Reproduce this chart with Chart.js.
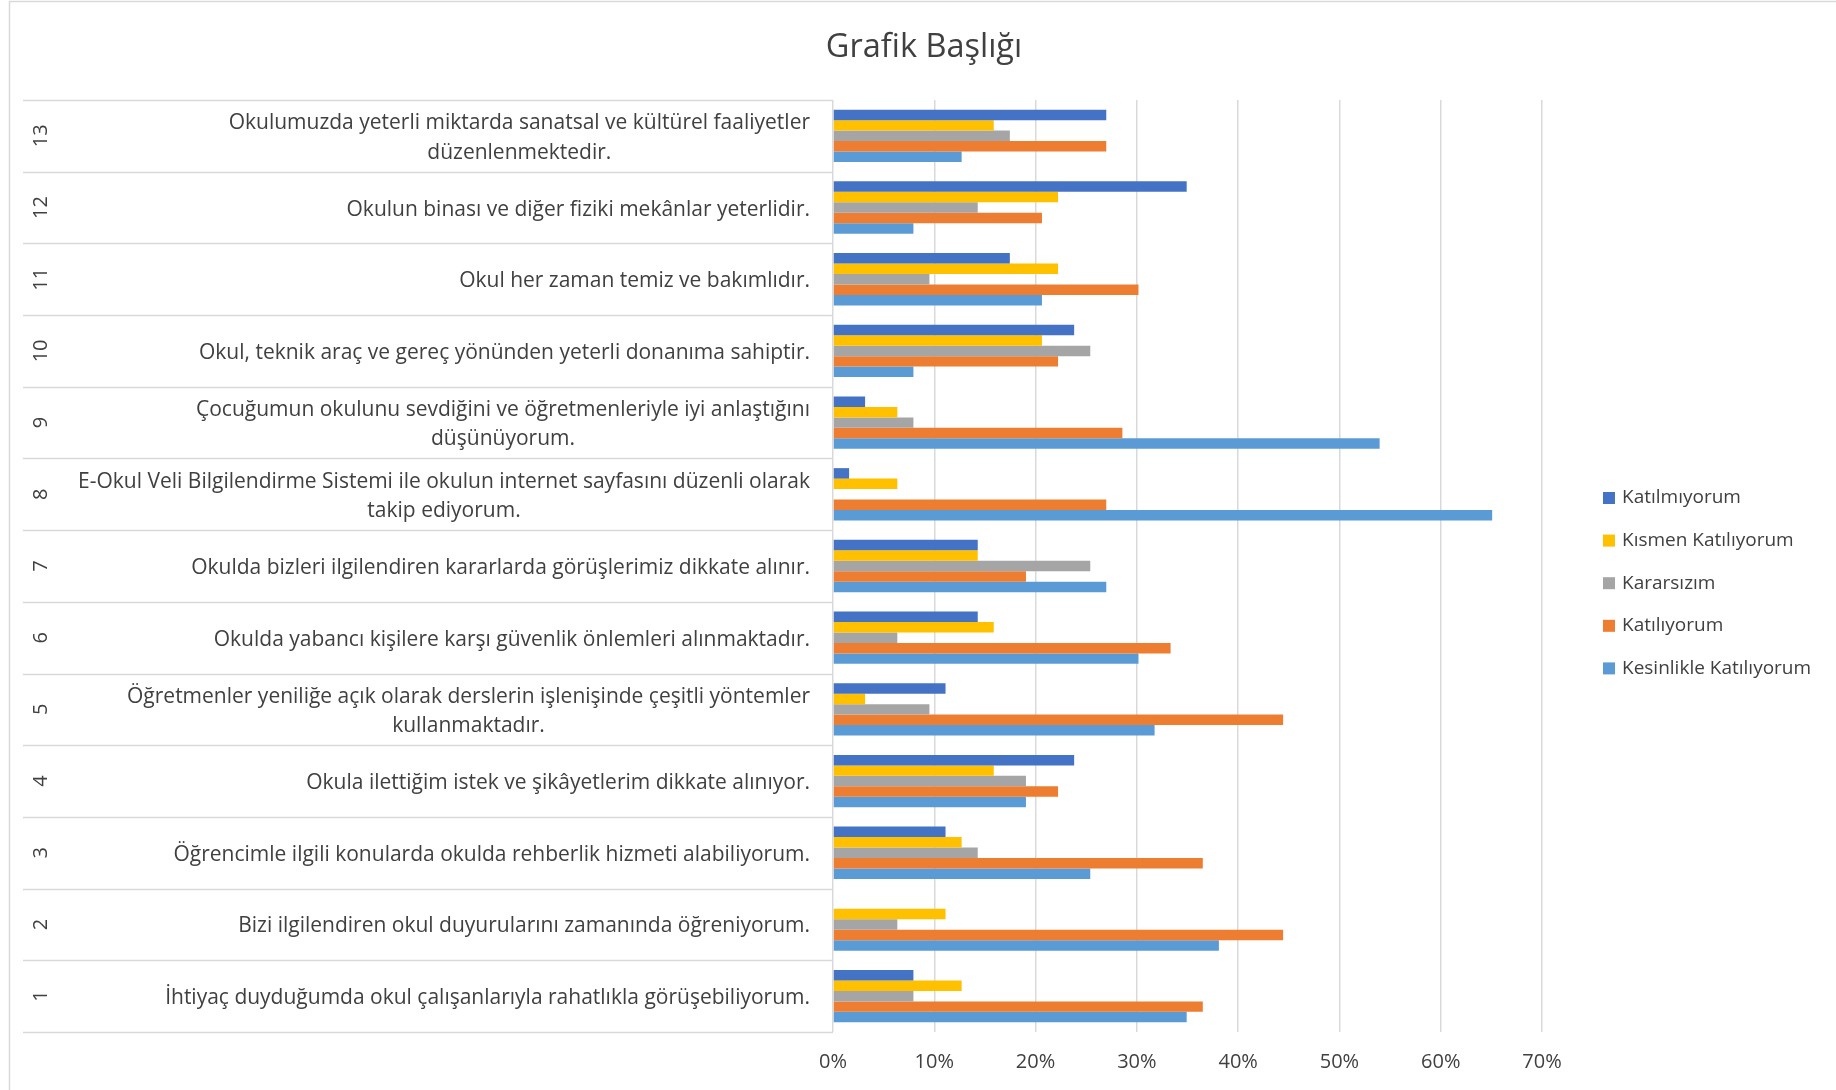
<!DOCTYPE html>
<html>
<head>
<meta charset="utf-8">
<title>Grafik Başlığı</title>
<script src="https://cdn.jsdelivr.net/npm/chart.js"></script>
<style>
  html, body { margin: 0; padding: 0; background: #fff; }
</style>
</head>
<body>
<canvas id="chart" width="1836" height="1090"></canvas>
<script>
// Item numbers, from the bottom row (1) to the top row (13)
const itemNumbers = ['1', '2', '3', '4', '5', '6', '7', '8', '9', '10', '11', '12', '13'];

// Question text per item, already wrapped like the original
const questions = [
  ['İhtiyaç duyduğumda okul çalışanlarıyla rahatlıkla görüşebiliyorum.'],
  ['Bizi ilgilendiren okul duyurularını zamanında öğreniyorum.'],
  ['Öğrencimle ilgili konularda okulda rehberlik hizmeti alabiliyorum.'],
  ['Okula ilettiğim istek ve şikâyetlerim dikkate alınıyor.'],
  ['Öğretmenler yeniliğe açık olarak derslerin işlenişinde çeşitli yöntemler', 'kullanmaktadır.'],
  ['Okulda yabancı kişilere karşı güvenlik önlemleri alınmaktadır.'],
  ['Okulda bizleri ilgilendiren kararlarda görüşlerimiz dikkate alınır.'],
  ['E-Okul Veli Bilgilendirme Sistemi ile okulun internet sayfasını düzenli olarak', 'takip ediyorum.'],
  ['Çocuğumun okulunu sevdiğini ve öğretmenleriyle iyi anlaştığını', 'düşünüyorum.'],
  ['Okul, teknik araç ve gereç yönünden yeterli donanıma sahiptir.'],
  ['Okul her zaman temiz ve bakımlıdır.'],
  ['Okulun binası ve diğer fiziki mekânlar yeterlidir.'],
  ['Okulumuzda yeterli miktarda sanatsal ve kültürel faaliyetler', 'düzenlenmektedir.']
];

// Answer shares in percent, items 1..13
const katilmiyorum = [7.94, 0, 11.11, 23.81, 11.11, 14.29, 14.29, 1.59, 3.17, 23.81, 17.46, 34.92, 26.98];
const kismenKatiliyorum = [12.70, 11.11, 12.70, 15.87, 3.17, 15.87, 14.29, 6.35, 6.35, 20.63, 22.22, 22.22, 15.87];
const kararsizim = [7.94, 6.35, 14.29, 19.05, 9.52, 6.35, 25.40, 0, 7.94, 25.40, 9.52, 14.29, 17.46];
const katiliyorum = [36.51, 44.44, 36.51, 22.22, 44.44, 33.33, 19.05, 26.98, 28.57, 22.22, 30.16, 20.63, 26.98];
const kesinlikleKatiliyorum = [34.92, 38.10, 25.40, 19.05, 31.75, 30.16, 26.98, 65.08, 53.97, 7.94, 20.63, 7.94, 12.70];

const seriesNames = ['Katılmıyorum', 'Kısmen Katılıyorum', 'Kararsızım', 'Katılıyorum', 'Kesinlikle Katılıyorum'];
const seriesColors = ['#4472C4', '#FFC000', '#A5A5A5', '#ED7D31', '#5B9BD5'];
const seriesValues = [katilmiyorum, kismenKatiliyorum, kararsizim, katiliyorum, kesinlikleKatiliyorum];

const xTicks = [0, 10, 20, 30, 40, 50, 60, 70];

const FONT = '"Open Sans", "Noto Sans", sans-serif';
const TEXT = '#404040';
const LINE = '#D9D9D9';

// White background and the light frame round the chart
const chartFrame = {
  id: 'chartFrame',
  beforeDraw(chart) {
    const ctx = chart.ctx;
    ctx.save();
    ctx.fillStyle = '#ffffff';
    ctx.fillRect(0, 0, chart.width, chart.height);
    ctx.strokeStyle = LINE;
    ctx.lineWidth = 1.5;
    ctx.strokeRect(9.5, 1.5, chart.width + 20, chart.height + 20);
    ctx.restore();
  }
};

// Two-level category labels: rotated item number + question text
const categoryColumn = {
  id: 'categoryColumn',
  afterDraw(chart) {
    const ctx = chart.ctx;
    const yScale = chart.scales.y;
    const left = chart.chartArea.left;
    ctx.save();
    ctx.strokeStyle = LINE;
    ctx.lineWidth = 1.5;
    for (let i = 0; i <= itemNumbers.length; i++) {
      const py = Math.round(yScale.getPixelForValue(i - 0.5)) + 0.5;
      ctx.beginPath();
      ctx.moveTo(23, py);
      ctx.lineTo(left, py);
      ctx.stroke();
    }
    ctx.fillStyle = TEXT;
    ctx.textAlign = 'center';
    ctx.textBaseline = 'middle';
    itemNumbers.forEach((num, i) => {
      const cy = yScale.getPixelForValue(i);
      ctx.save();
      ctx.translate(41, cy);
      ctx.rotate(-Math.PI / 2);
      ctx.font = '20px ' + FONT;
      ctx.fillText(num, 0, 0);
      ctx.restore();

      const lines = questions[i];
      ctx.font = '21px ' + FONT;
      const w = Math.max(...lines.map(l => ctx.measureText(l).width));
      const cx = left - 23 - w / 2;
      lines.forEach((line, k) => {
        ctx.fillText(line, cx, cy + 2 + (k - (lines.length - 1) / 2) * 29.5);
      });
    });
    ctx.restore();
  }
};

// Legend on the right, drawn from the datasets
const sideLegend = {
  id: 'sideLegend',
  afterDraw(chart) {
    const ctx = chart.ctx;
    const boxX = chart.chartArea.right + 61;
    ctx.save();
    ctx.font = '19px ' + FONT;
    ctx.textBaseline = 'middle';
    ctx.textAlign = 'left';
    chart.data.datasets.forEach((ds, i) => {
      const cy = 498 + i * 42.6;
      ctx.fillStyle = ds.backgroundColor;
      ctx.fillRect(boxX, cy - 6, 12, 12);
      ctx.fillStyle = TEXT;
      ctx.fillText(ds.label, boxX + 19, cy);
    });
    ctx.restore();
  }
};

new Chart(document.getElementById('chart'), {
  type: 'bar',
  data: {
    labels: itemNumbers,
    datasets: seriesNames.map((name, i) => ({
      label: name,
      data: seriesValues[i],
      backgroundColor: seriesColors[i],
      borderWidth: 0,
      categoryPercentage: 0.73,
      barPercentage: 1.0
    }))
  },
  options: {
    indexAxis: 'y',
    responsive: false,
    animation: false,
    layout: { padding: { left: 12, right: 0, top: 0, bottom: 0 } },
    plugins: {
      legend: { display: false },
      tooltip: { enabled: false },
      title: {
        display: true,
        text: 'Grafik Başlığı',
        color: TEXT,
        font: { family: FONT, size: 32.5, weight: 'normal' },
        padding: { top: 28, bottom: 33 }
      }
    },
    scales: {
      x: {
        position: 'bottom',
        min: 0,
        max: 70,
        afterBuildTicks(scale) {
          scale.ticks = xTicks.map(v => ({ value: v }));
        },
        afterFit(scale) { scale.height = 58; },
        ticks: {
          padding: 18,
          color: TEXT,
          font: { family: FONT, size: 20 },
          callback: v => v + '%'
        },
        grid: { color: LINE, lineWidth: 1.5, drawTicks: false },
        border: { display: false }
      },
      y: {
        reverse: true,
        afterFit(scale) { scale.width = 833 - 12; },
        ticks: { display: false },
        grid: { display: false },
        border: { display: false }
      },
      // empty right-hand axis that keeps room for the legend
      legendSpace: {
        type: 'linear',
        axis: 'y',
        position: 'right',
        afterFit(scale) { scale.width = 294; },
        ticks: { display: false },
        grid: { display: false },
        border: { display: false }
      }
    }
  },
  plugins: [chartFrame, categoryColumn, sideLegend]
});
</script>
</body>
</html>
